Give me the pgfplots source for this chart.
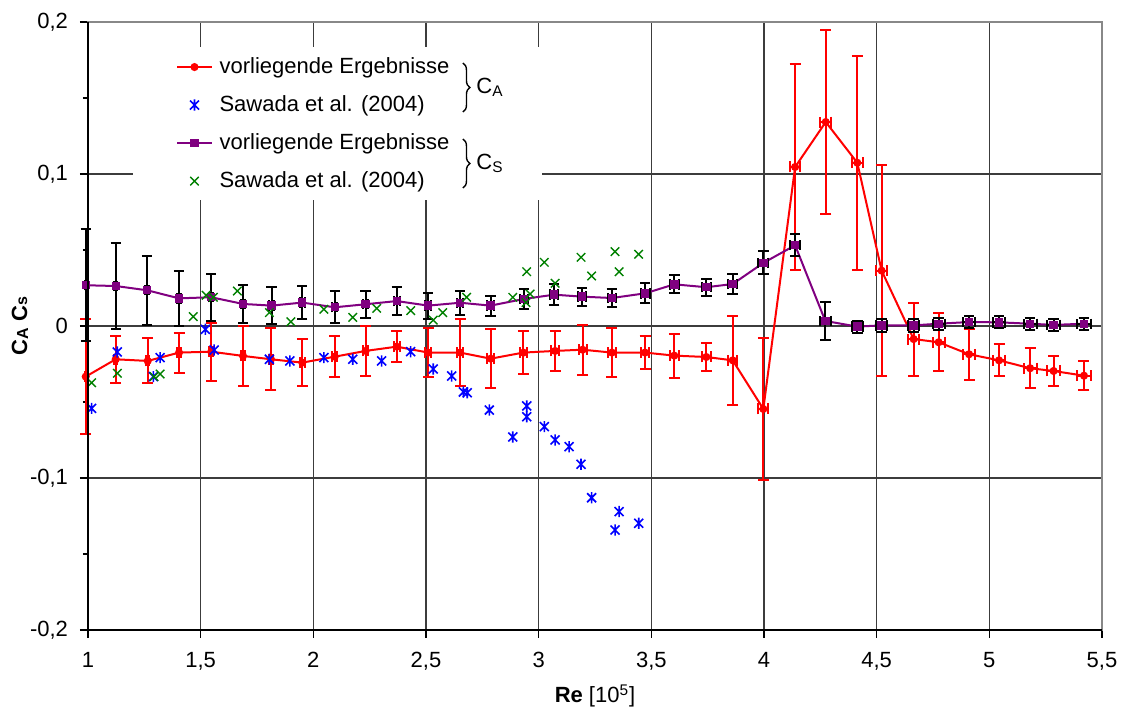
\documentclass[border=0pt]{standalone}
\usepackage{fontspec}
\setmainfont{Liberation Sans}
\usepackage{pgfplots}
\usepackage{pgfplotstable}
\pgfplotsset{compat=1.18}
\usetikzlibrary{decorations.pathreplacing}

\definecolor{cred}{RGB}{255,0,0}
\definecolor{cblue}{RGB}{0,0,255}
\definecolor{cpurple}{RGB}{128,0,128}
\definecolor{cgreen}{RGB}{0,128,0}
\definecolor{cgrid}{RGB}{60,60,60}
\definecolor{cframe}{RGB}{136,136,136}

\pgfdeclareplotmark{xstar}{%
  \pgfpathmoveto{\pgfqpoint{0pt}{\pgfplotmarksize}}%
  \pgfpathlineto{\pgfqpoint{0pt}{-\pgfplotmarksize}}%
  \pgfpathmoveto{\pgfqpoint{-0.8\pgfplotmarksize}{0.8\pgfplotmarksize}}%
  \pgfpathlineto{\pgfqpoint{0.8\pgfplotmarksize}{-0.8\pgfplotmarksize}}%
  \pgfpathmoveto{\pgfqpoint{-0.8\pgfplotmarksize}{-0.8\pgfplotmarksize}}%
  \pgfpathlineto{\pgfqpoint{0.8\pgfplotmarksize}{0.8\pgfplotmarksize}}%
  \pgfusepathqstroke}

\pgfplotstableread{
x y ex ey
0.990 -0.0333 0.0054 0.0376
1.123 -0.0219 0.0062 0.0156
1.265 -0.0230 0.0070 0.0148
1.404 -0.0175 0.0077 0.0132
1.547 -0.0169 0.0085 0.0190
1.688 -0.0197 0.0093 0.0200
1.812 -0.0219 0.0100 0.0203
1.951 -0.0241 0.0107 0.0156
2.095 -0.0202 0.0115 0.0134
2.232 -0.0164 0.0123 0.0164
2.370 -0.0136 0.0130 0.0100
2.510 -0.0175 0.0138 0.0163
2.651 -0.0175 0.0146 0.0220
2.787 -0.0215 0.0153 0.0195
2.932 -0.0175 0.0161 0.0143
3.073 -0.0164 0.0169 0.0130
3.195 -0.0156 0.0176 0.0164
3.325 -0.0175 0.0183 0.0160
3.472 -0.0175 0.0191 0.0110
3.602 -0.0195 0.0198 0.0144
3.744 -0.0204 0.0206 0.0094
3.861 -0.0226 0.0212 0.0295
3.997 -0.0546 0.0220 0.0465
4.138 0.1046 0.0228 0.0675
4.274 0.1342 0.0235 0.0605
4.414 0.1074 0.0243 0.0705
4.522 0.0364 0.0249 0.0694
4.664 -0.0086 0.0257 0.0240
4.775 -0.0107 0.0263 0.0190
4.910 -0.0186 0.0270 0.0167
5.043 -0.0226 0.0277 0.0105
5.181 -0.0278 0.0285 0.0130
5.285 -0.0296 0.0291 0.0099
5.420 -0.0327 0.0298 0.0094
}\redtab

\pgfplotstableread{
x y ex ey
0.990 0.0268 0.0054 0.0370
1.123 0.0263 0.0062 0.0283
1.262 0.0235 0.0070 0.0226
1.404 0.0182 0.0077 0.0180
1.547 0.0189 0.0085 0.0155
1.688 0.0145 0.0093 0.0125
1.815 0.0134 0.0100 0.0120
1.951 0.0154 0.0107 0.0110
2.095 0.0123 0.0115 0.0105
2.232 0.0143 0.0123 0.0090
2.370 0.0164 0.0130 0.0090
2.510 0.0134 0.0138 0.0085
2.651 0.0153 0.0146 0.0078
2.787 0.0134 0.0153 0.0065
2.935 0.0178 0.0161 0.0068
3.069 0.0206 0.0169 0.0070
3.192 0.0193 0.0176 0.0060
3.325 0.0184 0.0183 0.0057
3.473 0.0215 0.0191 0.0065
3.602 0.0274 0.0198 0.0060
3.744 0.0255 0.0206 0.0055
3.861 0.0276 0.0212 0.0064
3.997 0.0415 0.0220 0.0076
4.138 0.0531 0.0228 0.0073
4.272 0.0033 0.0235 0.0128
4.414 -0.0004 0.0243 0.0040
4.522 0.0004 0.0249 0.0045
4.664 0.0004 0.0257 0.0045
4.775 0.0015 0.0263 0.0040
4.910 0.0026 0.0270 0.0040
5.043 0.0024 0.0277 0.0040
5.181 0.0015 0.0285 0.0040
5.285 0.0007 0.0291 0.0040
5.420 0.0015 0.0298 0.0040
}\purpletab

\pgfplotstableread{
x y
1.016 -0.0542
1.130 -0.0171
1.290 -0.0333
1.320 -0.0208
1.521 -0.0022
1.560 -0.0158
1.805 -0.0219
1.896 -0.0230
2.047 -0.0208
2.175 -0.0219
2.303 -0.0230
2.432 -0.0169
2.532 -0.0283
2.614 -0.0329
2.666 -0.0434
2.683 -0.0439
2.781 -0.0553
2.885 -0.0730
2.947 -0.0526
2.947 -0.0597
3.025 -0.0662
3.073 -0.0750
3.135 -0.0794
3.188 -0.0910
3.235 -0.1130
3.339 -0.1342
3.357 -0.1221
3.444 -0.1298
}\bluetab

\pgfplotstableread{
x y
1.016 -0.0373
1.130 -0.0311
1.293 -0.0333
1.320 -0.0316
1.467 0.0061
1.524 0.0202
1.556 0.0189
1.663 0.0230
1.805 0.0088
1.900 0.0028
2.047 0.0110
2.175 0.0057
2.281 0.0116
2.432 0.0101
2.532 0.0039
2.574 0.0088
2.680 0.0189
2.885 0.0189
2.947 0.0357
2.944 0.0154
2.962 0.0210
3.025 0.0419
3.073 0.0281
3.188 0.0452
3.235 0.0329
3.339 0.0489
3.357 0.0357
3.444 0.0472
}\greentab

\begin{document}
\begin{tikzpicture}
\begin{axis}[
  name=ax,
  scale only axis,
  width=507pt, height=304pt,
  xmin=1, xmax=5.5, ymin=-0.2, ymax=0.2,
  clip=false,
  xtick={1,1.5,...,5.5},
  ytick={-0.2,-0.1,0,0.1,0.2},
  minor y tick num=1,
  xtick pos=bottom, ytick pos=left,
  tick align=outside,
  major tick length=4pt, minor tick length=2.5pt,
  tick style={black, line width=0.6pt},
  grid=major,
  major grid style={cgrid, line width=0.6pt},
  axis line style={cframe, line width=1pt},
  /pgf/number format/.cd, use comma, fixed, precision=1, assume math mode=true,
  /pgfplots/.cd,
  tick label style={font=\fontsize{11}{13}\selectfont, black},
  xticklabel style={yshift=-3.5pt},
  yticklabel style={xshift=-2.5pt},
  every axis x label/.style={at={(rel axis cs:0.5,0)}, yshift=-33pt, anchor=center, font=\fontsize{11}{13}\selectfont},
  every axis y label/.style={at={(rel axis cs:0,0.5)}, xshift=-34pt, rotate=90, anchor=center, font=\fontsize{11}{13}\selectfont\bfseries},
  xlabel={\textbf{Re} [10\textsuperscript{5}]},
  ylabel={C\raisebox{-0.5pt}{\fontsize{8}{8}\selectfont A} C\raisebox{0pt}{\fontsize{8}{8}\selectfont s}},
  legend style={at={(rel axis cs:0.0868,0.943)}, anchor=north west, draw=none, fill=none,
    inner sep=0pt, font=\fontsize{11}{13}\selectfont, row sep=9pt, column sep=3.5pt,
    nodes={inner sep=0pt, text height=8pt, text depth=2pt}},
  legend cell align=left,
]
\addplot[cred, line width=1pt, mark=*, mark size=1.5pt, mark options={solid, fill=cred},
  error bars/.cd, x dir=both, x explicit, y dir=both, y explicit,
  error mark=|,
  error bar style={cred, line width=1pt},
  error mark options={cred, mark size=2.75pt, line width=1pt}]
  table[x=x, y=y, x error=ex, y error=ey] {\redtab};
\addlegendentry{vorliegende Ergebnisse}
\addplot[only marks, cblue, mark=xstar, mark size=2.8pt, mark options={line width=0.8pt}]
  table[x=x, y=y] {\bluetab};
\addlegendentry{Sawada et al. (2004)}
\addplot[cpurple, line width=1pt, mark=square*, mark size=1.6pt, mark options={solid, fill=cpurple},
  error bars/.cd, x dir=both, x explicit, y dir=both, y explicit,
  error mark=|,
  error bar style={black, line width=1pt},
  error mark options={black, mark size=2.6pt, line width=1pt}]
  table[x=x, y=y, x error=ex, y error=ey] {\purpletab};
\addlegendentry{vorliegende Ergebnisse}
\addplot[only marks, cgreen, mark=x, mark size=3pt, mark options={line width=0.7pt}]
  table[x=x, y=y] {\greentab};
\addlegendentry{Sawada et al. (2004)}

\fill[white] (axis cs:1.2,0.1836) rectangle (axis cs:3.015,0.0829);
\draw[black, line width=0.7pt, decorate, decoration={brace, amplitude=3.5pt}]
  (axis cs:2.664,0.173) -- (axis cs:2.664,0.1408);
\draw[black, line width=0.7pt, decorate, decoration={brace, amplitude=3.5pt}]
  (axis cs:2.664,0.123) -- (axis cs:2.664,0.0908);
\node[anchor=west, inner sep=0pt, font=\fontsize{11}{13}\selectfont] at (axis cs:2.722,0.157) {C\textsubscript{A}};
\node[anchor=west, inner sep=0pt, font=\fontsize{11}{13}\selectfont] at (axis cs:2.722,0.1072) {C\textsubscript{S}};
\end{axis}
\draw[black, line width=1pt] (ax.north west) -- (ax.south west) -- (ax.south east);
\path ([shift={(-44pt,-38.5pt)}]ax.south west) rectangle ([shift={(12.5pt,11pt)}]ax.north east);
\end{tikzpicture}
\end{document}
